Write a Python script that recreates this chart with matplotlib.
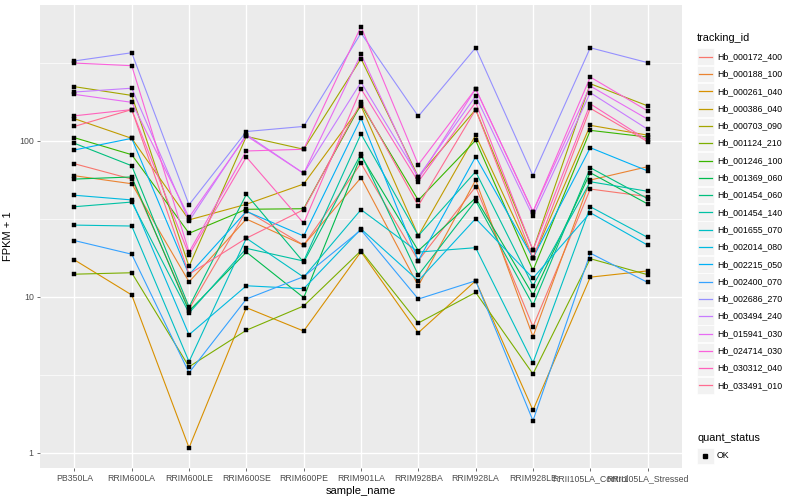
import matplotlib
matplotlib.use("Agg")
import matplotlib.pyplot as plt
from matplotlib.lines import Line2D
from matplotlib.patches import Rectangle
import numpy as np

plt.rcParams["font.family"] = ["Liberation Sans", "DejaVu Sans"]

samples = ["PB350LA", "RRIM600LA", "RRIM600LE", "RRIM600SE", "RRIM600PE",
           "RRIM901LA", "RRIM928BA", "RRIM928LA", "RRIM928LE",
           "RRII105LA_Control", "RRII105LA_Stressed"]

tracking_ids = ["Hb_000172_400", "Hb_000188_100", "Hb_000261_040", "Hb_000386_040",
                "Hb_000703_090", "Hb_001124_210", "Hb_001246_100", "Hb_001369_060",
                "Hb_001454_060", "Hb_001454_140", "Hb_001655_070", "Hb_002014_080",
                "Hb_002215_050", "Hb_002400_070", "Hb_002686_270", "Hb_003494_240",
                "Hb_015941_030", "Hb_024714_030", "Hb_030312_040", "Hb_033491_010"]

colors = ["#F8766D", "#EA8331", "#D89000", "#C09B00", "#A3A500", "#7CAE00", "#39B600",
          "#00BB4E", "#00BF7D", "#00C1A3", "#00BFC4", "#00BAE0", "#00B0F6", "#35A2FF",
          "#9590FF", "#C77CFF", "#E76BF3", "#FA62DB", "#FF62BC", "#FF6C91"]

# FPKM + 1 per sample (order of `samples`)
hb_000172_400 = [71.5, 57.0, 8.38, 35.7, 21.5, 71.9, 17.1, 50.9, 6.45, 49.2, 44.0]
hb_000188_100 = [59.9, 53.2, 12.5, 31.6, 21.5, 58.2, 11.8, 56.2, 5.57, 56.2, 68.4]
hb_000261_040 = [17.3, 10.3, 1.08, 8.54, 6.05, 19.5, 5.90, 12.7, 1.88, 13.4, 14.7]
hb_000386_040 = [139, 104, 31.2, 39.3, 53.0, 168, 24.7, 109, 17.7, 126, 109]
hb_000703_090 = [223, 196, 15.7, 107, 88.5, 337, 59.0, 159, 20.0, 233, 168]
hb_001124_210 = [14.0, 14.3, 3.57, 6.12, 8.76, 19.8, 6.81, 10.7, 3.21, 17.6, 13.9]
hb_001246_100 = [105, 81.7, 25.6, 36.5, 36.8, 172, 41.7, 101, 14.8, 117, 106]
hb_001369_060 = [57.0, 58.8, 8.13, 19.4, 9.9, 80.5, 19.8, 43.1, 10.3, 62.6, 39.5]
hb_001454_060 = [96.7, 69.4, 8.63, 45.5, 16.7, 82.6, 13.8, 41.4, 8.89, 67.4, 42.7]
hb_001454_140 = [37.9, 40.6, 7.89, 20.5, 17.0, 111, 24.7, 63.6, 11.8, 54.8, 47.6]
hb_001655_070 = [28.9, 28.5, 3.85, 23.8, 13.4, 36.3, 19.4, 20.7, 3.79, 37.9, 24.1]
hb_002014_080 = [44.9, 41.9, 5.73, 11.8, 11.3, 27.3, 12.7, 31.8, 13.2, 34.7, 21.5]
hb_002215_050 = [87.6, 104, 13.9, 35.4, 24.6, 140, 17.1, 79.3, 17.8, 90.6, 64.3]
hb_002400_070 = [23.0, 18.8, 3.27, 9.7, 13.5, 26.9, 9.7, 12.7, 1.61, 19.1, 12.4]
hb_002686_270 = [326, 368, 39.0, 115, 124, 492, 144, 396, 59.9, 396, 318]
hb_003494_240 = [206, 218, 30.7, 110, 62.0, 238, 59.0, 194, 32.9, 204, 119]
hb_015941_030 = [199, 177, 32.4, 108, 62.0, 360, 57.0, 216, 35.2, 225, 138]
hb_024714_030 = [316, 304, 19.4, 86.3, 88.5, 541, 70.5, 216, 35.2, 257, 156]
hb_030312_040 = [145, 159, 18.6, 78.9, 29.7, 216, 54.8, 177, 20.0, 173, 101]
hb_033491_010 = [124, 159, 14.0, 23.8, 36.3, 177, 38.5, 159, 17.8, 162, 99]

series = [hb_000172_400, hb_000188_100, hb_000261_040, hb_000386_040, hb_000703_090,
          hb_001124_210, hb_001246_100, hb_001369_060, hb_001454_060, hb_001454_140,
          hb_001655_070, hb_002014_080, hb_002215_050, hb_002400_070, hb_002686_270,
          hb_003494_240, hb_015941_030, hb_024714_030, hb_030312_040, hb_033491_010]

W, H = 800, 500
fig = plt.figure(figsize=(8, 5), dpi=100)
fig.patch.set_facecolor("white")

# panel in pixel coordinates
pl, pr, pt, pb = 40, 682, 5, 468
ax = fig.add_axes([pl / W, 1 - pb / H, (pr - pl) / W, (pb - pt) / H])
ax.set_facecolor("#EBEBEB")
for s in ax.spines.values():
    s.set_visible(False)

x = np.arange(len(samples))
ax.set_yscale("log")
ax.set_xlim(-0.6, len(samples) - 1 + 0.6)
ax.set_ylim(0.801, 744.5)

# grid
for yv in [1, 10, 100]:
    ax.axhline(yv, color="white", lw=1.0, zorder=0)
for yv in [10 ** 0.5, 10 ** 1.5, 10 ** 2.5]:
    ax.axhline(yv, color="white", lw=0.5, zorder=0)
for xv in x:
    ax.axvline(xv, color="white", lw=1.0, zorder=0)

for vals, c in zip(series, colors):
    ax.plot(x, vals, color=c, lw=0.8, zorder=2)
for vals in series:
    ax.plot(x, vals, linestyle="none", marker="s", ms=2.6, color="black",
            mec="black", mew=0.3, zorder=3)

ax.set_xticks(x)
ax.set_xticklabels(samples, fontsize=6.3, color="#4D4D4D")
ax.set_yticks([1, 10, 100])
ax.set_yticklabels(["1", "10", "100"], fontsize=6.3, color="#4D4D4D")
ax.yaxis.set_minor_locator(matplotlib.ticker.NullLocator())
ax.tick_params(axis="both", length=2.5, width=0.5, color="#333333", pad=2)
ax.set_xlabel("sample_name", fontsize=8, labelpad=2)
ax.set_ylabel("FPKM + 1", fontsize=8, labelpad=4)


def fx(px):
    return px / W


def fy(py):
    return 1 - py / H


# legend: tracking_id
fig.text(fx(697), fy(38), "tracking_id", fontsize=7.8, va="center", ha="left")
y0, dy = 56.7, 17.3
for i, (tid, c) in enumerate(zip(tracking_ids, colors)):
    yc = y0 + i * dy
    fig.add_artist(Rectangle((fx(697), fy(yc + 8.3)), 16.5 / W, 16.6 / H,
                             transform=fig.transFigure, facecolor="#F2F2F2",
                             edgecolor="white", lw=0.5))
    fig.add_artist(Line2D([fx(698.5), fx(712)], [fy(yc), fy(yc)],
                          transform=fig.transFigure, color=c, lw=0.9))
    fig.text(fx(717), fy(yc), tid, fontsize=6.3, va="center", ha="left")

# legend: quant_status
fig.text(fx(697), fy(438), "quant_status", fontsize=7.8, va="center", ha="left")
yc = 456
fig.add_artist(Rectangle((fx(697), fy(yc + 8.3)), 16.5 / W, 16.6 / H,
                         transform=fig.transFigure, facecolor="#F2F2F2",
                         edgecolor="white", lw=0.5))
fig.add_artist(Line2D([fx(705)], [fy(yc)], transform=fig.transFigure,
                      marker="s", ms=2.6, color="black", linestyle="none"))
fig.text(fx(717), fy(yc), "OK", fontsize=6.3, va="center", ha="left")

fig.savefig("out.png", dpi=100)
